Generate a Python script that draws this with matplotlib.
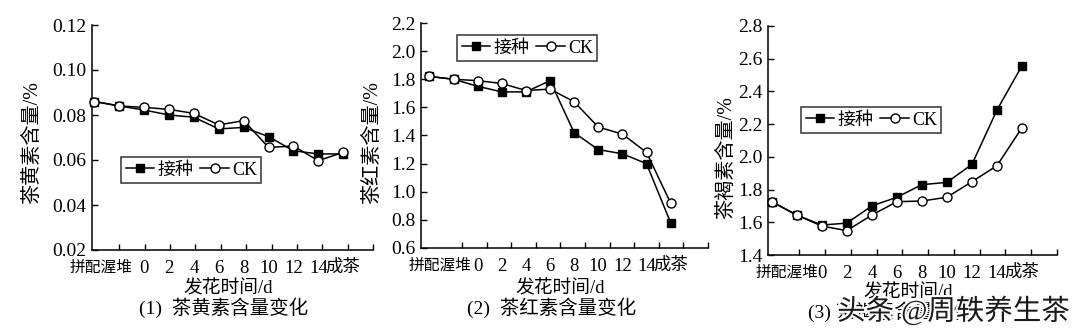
import numpy as np
import matplotlib
matplotlib.use('Agg')
import matplotlib.pyplot as plt
import matplotlib.patheffects as pe

plt.rcParams['font.family'] = ['Liberation Serif', 'Noto Sans CJK SC']
plt.rcParams['axes.unicode_minus'] = False

# 拼配, 渥堆, 0, 2, ..., 14, 成茶
tick_labels = ['拼配渥堆', '0', '2', '4', '6', '8', '10', '12', '14', '成茶']
xlabel = '发花时间/d'

tf_jz = [0.0860, 0.0840, 0.0822, 0.0800, 0.0790, 0.0738, 0.0745, 0.0704, 0.0641, 0.0627, 0.0627]
tf_ck = [0.0860, 0.0840, 0.0834, 0.0825, 0.0807, 0.0756, 0.0775, 0.0656, 0.0662, 0.0597, 0.0634]

tr_jz = [1.82, 1.80, 1.75, 1.71, 1.71, 1.79, 1.42, 1.30, 1.27, 1.20, 0.78]
tr_ck = [1.82, 1.80, 1.79, 1.77, 1.72, 1.73, 1.64, 1.46, 1.41, 1.28, 0.92]

tb_jz = [1.726, 1.644, 1.583, 1.595, 1.700, 1.753, 1.830, 1.844, 1.954, 2.286, 2.557]
tb_ck = [1.726, 1.644, 1.577, 1.549, 1.644, 1.726, 1.730, 1.753, 1.848, 1.946, 2.178]

panels = [
    dict(jz=tf_jz, ck=tf_ck, ylabel='茶黄素含量/%', title='(1)  茶黄素含量变化',
         ylim=(0.02, 0.12), ystep=0.02, fmt='%.2f',
         rect=(92, 373, 250, 25), xlim=(-0.1, 11.2), ticks=(1.0, 11.2),
         first=0.25, leg=(121, 157), ylab=(33, 143), xlab=289, cap=(224, 308)),
    dict(jz=tr_jz, ck=tr_ck, ylabel='茶红素含量/%', title='(2)  茶红素含量变化',
         ylim=(0.6, 2.2), ystep=0.2, fmt='%.1f',
         rect=(421, 708, 248, 23), xlim=(-0.35, 11.55), ticks=(1.35, 11.55),
         first=0.45, leg=(457, 35), ylab=(373, 142), xlab=289, cap=(552, 308)),
    dict(jz=tb_jz, ck=tb_ck, ylabel='茶褐素含量/%', title='(3) 茶褐素含量变化',
         ylim=(1.4, 2.8), ystep=0.2, fmt='%.1f',
         rect=(768, 1057, 255, 26), xlim=(-0.15, 11.4), ticks=(1.1, 11.4),
         first=0.62, leg=(801, 107), ylab=(727, 158), xlab=293, cap=(890, 312)),
]

W, H = 1080, 332
fig = plt.figure(figsize=(W / 100, H / 100), dpi=100)

for p in panels:
    l, r, b, t = p['rect']
    ax = fig.add_axes([l / W, 1 - b / H, (r - l) / W, (b - t) / H])
    x = np.arange(len(p['jz']))
    ax.plot(x, p['jz'], '-s', color='black', lw=1.1, ms=5.5, mfc='black',
            mec='black', clip_on=False, label='接种', zorder=3)
    ax.plot(x, p['ck'], '-o', color='black', lw=1.1, ms=6.5, mfc='white',
            mec='black', mew=1.0, clip_on=False, label='CK', zorder=4)
    ax.set_xlim(*p['xlim'])
    ax.set_ylim(*p['ylim'])
    yt = np.arange(p['ylim'][0], p['ylim'][1] + 1e-9, p['ystep'])
    ax.set_yticks(yt)
    ax.set_yticklabels([p['fmt'] % v for v in yt], fontsize=14)
    ax.set_xticks(np.linspace(p['ticks'][0], p['ticks'][1], 11))
    ax.set_xticklabels([])
    lab_pos = [p['first']] + list(range(2, 11))
    ax.set_xticks(lab_pos, minor=True)
    labs = ax.set_xticklabels(tick_labels, minor=True, fontsize=13.5)
    labs[0].set_fontsize(11.3)
    labs[-1].set_fontsize(12.5)
    ax.tick_params(axis='x', which='minor', length=0, pad=7)
    ax.tick_params(axis='both', which='major', direction='in', length=4, width=1)
    ax.tick_params(axis='y', pad=4)
    for s in ['top', 'right']:
        ax.spines[s].set_visible(False)
    for s in ['left', 'bottom']:
        ax.spines[s].set_linewidth(1.1)
    ax.set_ylabel(p['ylabel'], fontsize=14.5)
    ax.yaxis.label.set_va('center')
    ax.yaxis.set_label_coords(p['ylab'][0] / W, 1 - p['ylab'][1] / H,
                              transform=fig.transFigure)
    ax.set_xlabel(xlabel, fontsize=13.5)
    ax.xaxis.label.set_va('center')
    ax.xaxis.set_label_coords((l + r) / 2 / W - 0.004, 1 - p['xlab'] / H,
                              transform=fig.transFigure)
    fig.text(p['cap'][0] / W, 1 - p['cap'][1] / H, p['title'], ha='center',
             va='center', fontsize=14)
    lx, ly = p['leg']
    leg = ax.legend(loc='upper left', bbox_to_anchor=(lx / W, 1 - ly / H),
                    bbox_transform=fig.transFigure, ncol=2, fontsize=13,
                    frameon=True, fancybox=False, edgecolor='black',
                    handlelength=1.6, handletextpad=0.15, columnspacing=0.4,
                    borderpad=0.25, borderaxespad=0)
    leg.get_frame().set_linewidth(1.1)

fig.text(1070 / W, 1 - 311 / H, '头条 @周轶养生茶', ha='right', va='center',
         fontsize=20.5, color='#1a1a1a',
         path_effects=[pe.withStroke(linewidth=3, foreground='white')])

fig.savefig('out.png', dpi=100, facecolor='white')
